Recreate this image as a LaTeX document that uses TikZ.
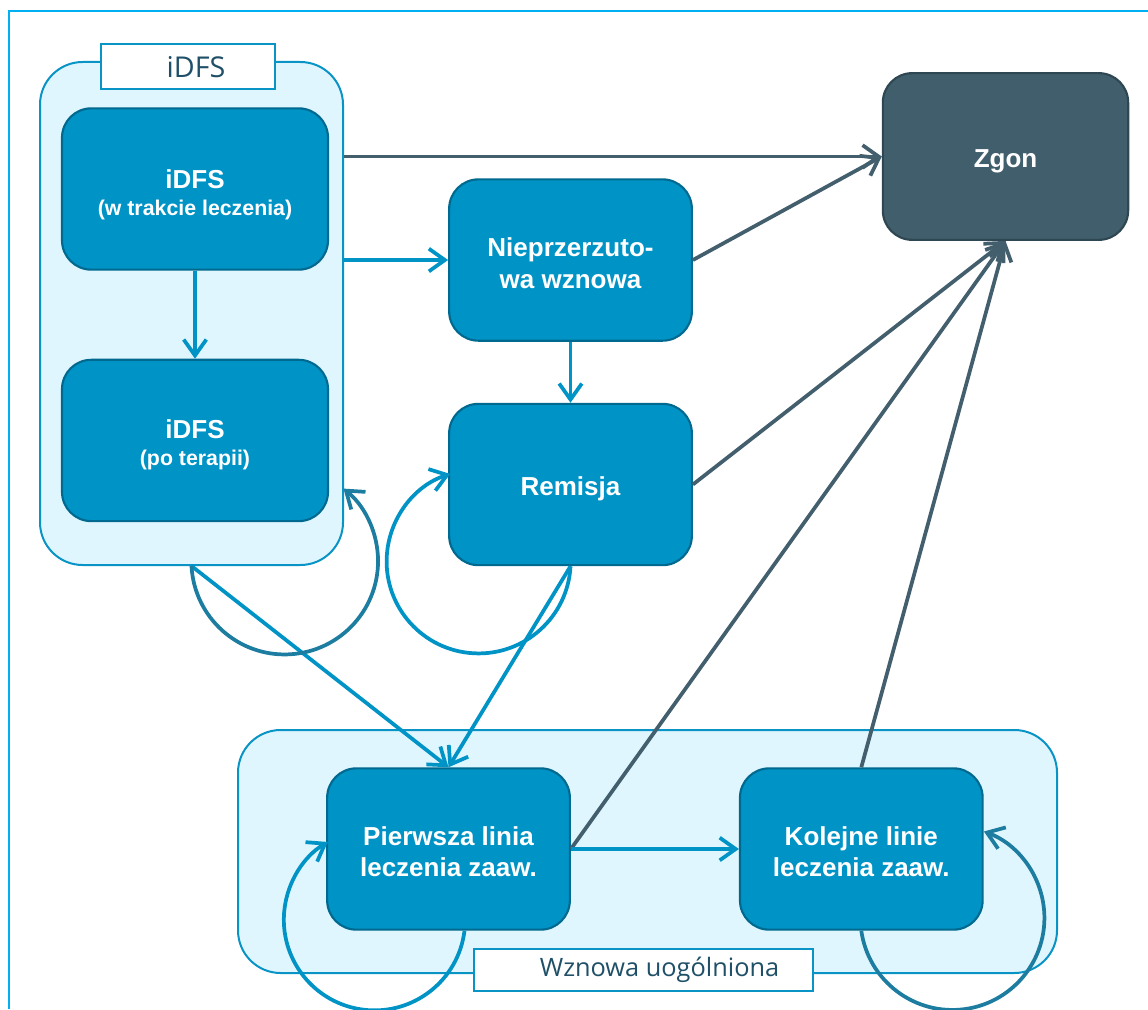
\documentclass[tikz,border=0pt]{standalone}
\usepackage{fontspec}
\setmainfont{Liberation Sans}
\newfontfamily\tabfont{Open Sans}
\usetikzlibrary{arrows.meta,positioning}
\usepackage{xcolor}
\definecolor{boxblue}{HTML}{0093C6}
\definecolor{boxedge}{HTML}{00698F}
\definecolor{grpfill}{HTML}{E0F6FE}
\definecolor{grpedge}{HTML}{0A94C6}
\definecolor{deathfill}{HTML}{415E6C}
\definecolor{deathedge}{HTML}{2E4752}
\definecolor{deathline}{HTML}{435F6D}
\definecolor{loopdark}{HTML}{1D7DA0}
\definecolor{tabtext}{HTML}{1F5068}
\definecolor{framecol}{HTML}{00B0F0}
\newcommand{\sublbl}[1]{{\fontsize{16}{19}\selectfont #1}}
\newcommand{\topgap}[1]{\rule{0pt}{#1}}

\begin{document}
\begin{tikzpicture}[x=0.75pt, y=-0.75pt,
    phase/.style={draw=boxedge, fill=boxblue, line width=1.6pt, rounded corners=22pt, text=white, align=center,
      font=\bfseries\fontsize{19.5}{23.5}\selectfont, minimum width=182pt, minimum height=121pt, inner sep=0pt,
      execute at begin node={\rule{0pt}{20pt}}},
    group/.style={draw=grpedge, fill=grpfill, line width=1.5pt, rounded corners=32pt, inner sep=0pt},
    tab/.style={draw=grpedge, fill=white, line width=1.5pt, text=tabtext, font=\tabfont\fontsize{19}{23}\selectfont, inner sep=0pt},
    flow/.style={draw=boxblue, line width=2.8pt, -{Straight Barb[length=12pt,width=17pt]}},
    fatal/.style={flow, draw=deathline},
    loopd/.style={flow, draw=loopdark}]
  \useasboundingbox (0,0) rectangle (1148,1009);
  \draw[framecol, line width=1.5pt] (9,1009) -- (9,11) -- (1148,11);

  % groups
  \node[group, minimum width=227.25pt, minimum height=377.25pt] (idfsgrp) at (191.5,313.5) {};
  \node[group, minimum width=614.25pt, minimum height=182.25pt] (wzngrp) at (647.5,851.5) {};
  \node[tab, minimum width=130.5pt, minimum height=33.75pt, font=\tabfont\fontsize{21.5}{25}\selectfont] (idfstab) at (188,67) {\hspace*{12pt}iDFS};
  \node[tab, minimum width=254.25pt, minimum height=31.5pt] (wzntab) at (643.5,970) {\hspace*{24pt}Wznowa uogólniona};

  % states
  \node[phase, minimum width=199.5pt] (idfsA) at (195,189) {\topgap{23pt}iDFS\\[-3.5pt]\sublbl{(w trakcie leczenia)}};
  \node[phase, minimum width=199.5pt, below=66pt of idfsA] (idfsB) {\topgap{21pt}iDFS\\[-3.5pt]\sublbl{(po terapii)}};
  \node[phase] (rem) at (570.5,484.5) {Remisja};
  \node[phase, above=45.75pt of rem] (nwz) {\topgap{19pt}Nieprzerzuto-\\wa wznowa};
  \node[phase, draw=deathedge, fill=deathfill, minimum width=184pt, minimum height=125pt] (zgon) at (1005.5,156.5) {Zgon};
  \node[phase] (pier) at (448.5,849) {\topgap{18pt}Pierwsza linia\\leczenia zaaw.};
  \node[phase, right=126pt of pier] (kol) {\topgap{18pt}Kolejne linie\\leczenia zaaw.};

  % transitions
  \draw[fatal] (idfsgrp.east |- zgon.west) -- (zgon.west);
  \draw[flow] (idfsgrp.east |- nwz.west) -- (nwz.west);
  \draw[flow] (idfsA) -- (idfsB);
  \draw[fatal] (nwz.east) -- (zgon.west);
  \draw[flow] (nwz) -- (rem);
  \draw[fatal] (rem.east) -- (zgon.south);
  \draw[fatal] (pier.east) -- (zgon.south);
  \draw[fatal] (kol.north) -- (zgon.south);
  \draw[flow] (idfsgrp.south) -- (pier.north);
  \draw[flow] (rem.south) -- (pier.north);
  \draw[flow] (pier) -- (kol);

  % self loops
  \draw[loopd] (idfsgrp.south) arc[start angle=183, end angle=411, radius=70pt];
  \draw[flow] (rem.south) arc[start angle=-3, end angle=-252, radius=69pt];
  \draw[flow] ([xshift=12pt]pier.south) arc[start angle=-7, end angle=-239, radius=68pt];
  \draw[loopd] (kol.south) arc[start angle=188, end angle=430, radius=69pt];
\end{tikzpicture}
\end{document}
